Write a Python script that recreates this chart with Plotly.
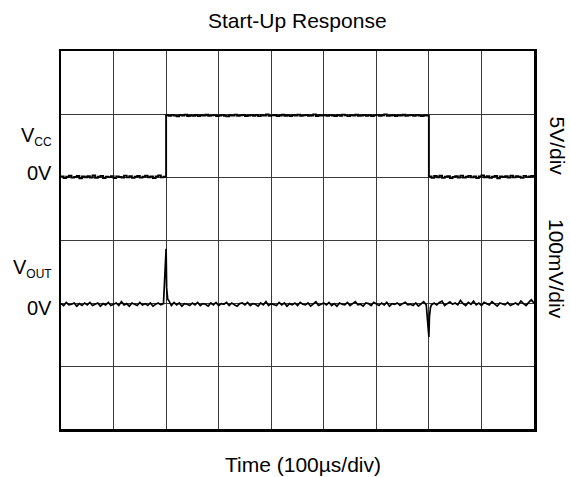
import plotly.graph_objects as go

# Time samples (µs), 5 µs spacing, 0..900 µs (9 divisions of 100 µs)
STEP_US = 5

# VCC trace (V), 5 V/div
vcc_v = [
    0.05, -0.08, 0.02, 0.10, -0.05, 0.00, 0.08, -0.10, 0.04, -0.02,
    0.06, -0.04, 0.12, -0.06, 0.02, 0.09, -0.08, 0.03, -0.01, 0.07,
    -0.09, 0.05, 0.00, -0.04, 0.11, -0.03, 0.06, -0.07, 0.02, 0.08,
    -0.05, 0.03, 0.10, -0.02, 0.05, -0.08, 0.04, 0.12, -0.03, 0.02,
    4.90, 4.85, 4.93, 4.87, 4.82, 4.91, 4.88, 4.95, 4.84, 4.89,
    4.86, 4.92, 4.83, 4.90, 4.87, 4.94, 4.85, 4.89, 4.91, 4.84,
    4.88, 4.93, 4.86, 4.81, 4.90, 4.87, 4.95, 4.85, 4.89, 4.92,
    4.84, 4.88, 4.91, 4.86, 4.93, 4.83, 4.90, 4.87, 4.96, 4.85,
    4.89, 4.92, 4.84, 4.88, 4.94, 4.86, 4.90, 4.83, 4.91, 4.87,
    4.95, 4.85, 4.89, 4.92, 4.86, 4.88, 4.97, 4.84, 4.90, 4.87,
    4.93, 4.85, 4.91, 4.88, 4.84, 4.92, 4.86, 4.95, 4.89, 4.83,
    4.90, 4.87, 4.94, 4.85, 4.88, 4.92, 4.86, 4.91, 4.84, 4.89,
    4.93, 4.86, 4.90, 4.97, 4.85, 4.88, 4.92, 4.84, 4.90, 4.87,
    4.94, 4.86, 4.89, 4.91, 4.85, 4.93, 4.88, 4.84, 4.90, 4.87,
    0.04, -0.06, 0.08, -0.02, 0.10, -0.07, 0.03, 0.06, -0.09, 0.01,
    0.07, -0.04, 0.11, -0.05, 0.02, 0.09, -0.03, 0.05, -0.08, 0.04,
    0.12, -0.02, 0.06, -0.06, 0.03, 0.08, -0.10, 0.05, 0.00, 0.07,
    -0.04, 0.10, -0.03, 0.06, 0.02, -0.07, 0.09, -0.01, 0.04, 0.08,
    0.03,
]
t_vcc = [STEP_US * i for i in range(len(vcc_v))]

# VOUT trace (mV), 100 mV/div, in three pieces split at the two glitches
vout_before_mv = [          # t = 0 .. 195 µs
    -1, -4, 1, -3, -2, 0, -5, -1, -4, 0,
    -3, 1, -4, -2, 0, -5, -1, -3, 1, -4,
    -2, 0, -4, 2, -3, -1, -5, 0, -2, -4,
    1, -3, -1, -4, 0, -5, -2, 0, -3, -1,
]
glitch_up_t_us = [200, 201, 203]
glitch_up_mv = [86, 24, 6]
vout_on_mv = [              # t = 205 .. 695 µs
    4, -4, 1, -3, 0, -5, -1, -2, -4,
    0, -3, 1, -4, -1, -2, -5, 0, -3, 1,
    -4, -1, -2, 1, -4, 0, -3, -5, -1, 0,
    -3, 1, -4, -1, -2, -5, 0, -3, 2, -4,
    -1, -2, -4, 1, -3, 0, -5, -1, -3, 0,
    -4, 1, -2, -3, 0, -5, -1, 2, -4, -2,
    0, -3, 1, -4, -1, -5, 0, -2, -3, 1,
    -4, -1, 2, -3, -2, -5, 0, -1, -4, 1,
    -2, -4, 0, -3, 1, -5, -1, -2, 0, -4,
    -1, 1, -3, -2, -4, 0, -5, -1, 2, -3,
]
glitch_down_t_us = [700, 701, 703]
glitch_down_mv = [-54, -22, -7]
vout_off_mv = [             # t = 705 .. 900 µs
    -3, 0, -3, 1, 3, -4, -1, 2, -2,
    0, -3, 4, -1, -4, 1, -2, 3, -3, 0,
    -4, 1, -1, -3, 2, -2, -5, 0, -1, -3,
    1, -4, -2, 0, -3, 3, -1, -4, 1, 5,
    0,
]

t_vout = ([STEP_US * i for i in range(len(vout_before_mv))] + glitch_up_t_us
          + [205 + STEP_US * i for i in range(len(vout_on_mv))] + glitch_down_t_us
          + [705 + STEP_US * i for i in range(len(vout_off_mv))])
vout_mv = vout_before_mv + glitch_up_mv + vout_on_mv + glitch_down_mv + vout_off_mv

FONT = "Liberation Sans, Arial, sans-serif"

fig = go.Figure()
fig.add_trace(go.Scatter(x=t_vcc, y=vcc_v, mode="lines",
                         line=dict(color="black", width=1.9, shape="hv"),
                         yaxis="y", hoverinfo="skip", showlegend=False))
fig.add_trace(go.Scatter(x=t_vout, y=vout_mv, mode="lines",
                         line=dict(color="black", width=1.7),
                         yaxis="y2", hoverinfo="skip", showlegend=False))

grid = dict(showticklabels=False, ticks="", showgrid=True, gridcolor="#3a3a3a",
            gridwidth=1, zeroline=False, showline=True, linecolor="black",
            linewidth=2.5, mirror=True)

fig.update_layout(
    width=570, height=477,
    margin=dict(l=61, r=36, t=51, b=48),
    paper_bgcolor="white", plot_bgcolor="white",
    font=dict(family=FONT, color="black"),
    hovermode=False,
    xaxis=dict(range=[0, 900], dtick=100, tick0=0, **grid),
    yaxis=dict(range=[-20, 10], dtick=5, tick0=0, **grid),
    yaxis2=dict(range=[-200, 400], overlaying="y", showticklabels=False, ticks="",
                showgrid=False, zeroline=False, showline=False),
)

def ann(text, x, y, xanchor="center", angle=0, size=21):
    return dict(text=text, x=x, y=y, xref="paper", yref="paper", xanchor=xanchor,
                yanchor="middle", showarrow=False, textangle=angle,
                font=dict(size=size, family=FONT, color="black"))

SUB = "<sub><span style='font-size:12px'>%s</span></sub>"

annotations = [
    ann("Start-Up Response", 0.5, 1.082),
    ann("Time (100µs/div)", 0.5116, -0.0939),
    dict(ann("V" + SUB % "CC", 0, 0.7725, xanchor="right", size=20), xshift=-7),
    dict(ann("0V", 0, 0.676, xanchor="right", size=20), xshift=-7),
    dict(ann("V" + SUB % "OUT", 0, 0.4246, xanchor="right", size=20), xshift=-7),
    dict(ann("0V", 0, 0.3214, xanchor="right", size=20), xshift=-7),
    ann("5V/div", 1.0476, 0.7487, angle=90),
    ann("100mV/div", 1.0476, 0.4246, angle=90),
]
fig.update_layout(annotations=annotations)

# remove the default 8px page margin so the 570x477 figure fills the window exactly
fig.write_html("out.html",
               config={"displayModeBar": False, "staticPlot": True},
               post_script="document.body.style.margin='0';document.body.style.overflow='hidden';")
